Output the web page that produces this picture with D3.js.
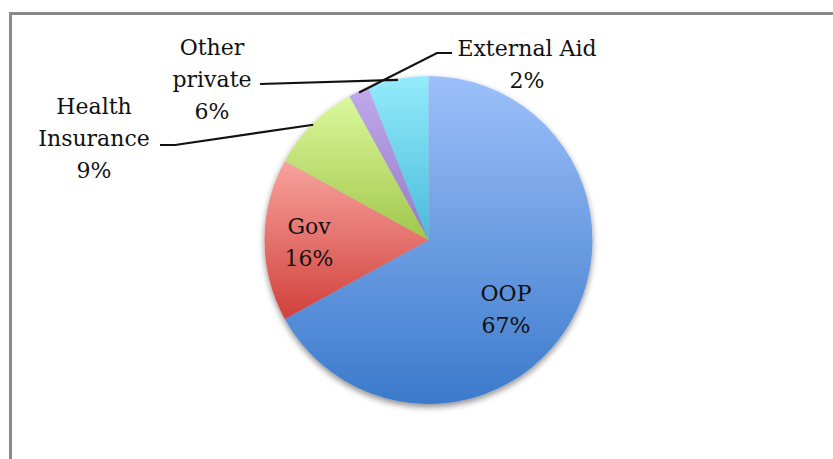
<!DOCTYPE html>
<html>
<head>
<meta charset="utf-8">
<script src="https://cdn.jsdelivr.net/npm/d3@7"></script>
<style>
  html, body { margin: 0; padding: 0; background: #fff; }
  svg { display: block; }
  text { font-family: "DejaVu Serif", "Liberation Serif", serif; fill: #111; }
</style>
</head>
<body>
<svg id="chart" width="833" height="459"></svg>
<script>
// Health spending by source of financing (share of total)
const categories = ["OOP", "Gov", "Health Insurance", "External Aid", "Other private"];
const values = [67, 16, 9, 2, 6];
const labelLines = [["OOP"], ["Gov"], ["Health", "Insurance"], ["External Aid"], ["Other", "private"]];

// Vertical gradient stops for each slice (top colour, bottom colour)
const topColors = ["#9cc0fa", "#f8a39e", "#dbf89c", "#bfaaea", "#95ebfc"];
const bottomColors = ["#3c7acb", "#d1403b", "#a1c74c", "#9679c9", "#47bbda"];

const W = 833, H = 459;
const cx = 428.5, cy = 240, R = 164;
const fontSize = 22, lineGap = 32;

// Label placement: inside labels by text centre,
// outside labels as text centre + leader line anchor.
const layout = {
  "OOP": { inside: true, x: 506, y: 301 },
  "Gov": { inside: true, x: 309, y: 234 },
  "Health Insurance": { x: 94, y: 114, lead: [[160, 145], [175, 145]] },
  "External Aid": { x: 527, y: 56, lead: [[452, 53], [437, 53]] },
  "Other private": { x: 212, y: 55, lead: [[260, 84]] }
};

const svg = d3.select("#chart");
const defs = svg.append("defs");

categories.forEach((c, i) => {
  const g = defs.append("linearGradient")
    .attr("id", "grad" + i)
    .attr("x1", 0).attr("y1", 0).attr("x2", 0).attr("y2", 1);
  g.append("stop").attr("offset", "0%").attr("stop-color", topColors[i]);
  g.append("stop").attr("offset", "100%").attr("stop-color", bottomColors[i]);
});

const shadow = defs.append("filter").attr("id", "shadow")
  .attr("x", "-20%").attr("y", "-20%").attr("width", "140%").attr("height", "140%");
shadow.append("feDropShadow")
  .attr("dx", 0).attr("dy", 3).attr("stdDeviation", 3)
  .attr("flood-color", "#000").attr("flood-opacity", 0.45);

// Chart frame (runs off the right and bottom edges)
svg.append("rect")
  .attr("x", 10.5).attr("y", 13.5)
  .attr("width", W + 20).attr("height", H + 20)
  .attr("fill", "none")
  .attr("stroke", "#8a8a8a")
  .attr("stroke-width", 3);

const pie = d3.pie().sort(null).value(d => d)(values);
const arc = d3.arc().innerRadius(0).outerRadius(R);

const pieG = svg.append("g")
  .attr("transform", `translate(${cx},${cy})`)
  .attr("filter", "url(#shadow)");

pieG.selectAll("path")
  .data(pie)
  .join("path")
  .attr("d", arc)
  .attr("fill", (d, i) => `url(#grad${i})`);

// Leader lines from outside labels to the middle of each slice's rim
const lineGen = d3.line();
pie.forEach((d, i) => {
  const L = layout[categories[i]];
  if (L.inside) return;
  const mid = (d.startAngle + d.endAngle) / 2;
  const rim = [cx + (R - 1) * Math.sin(mid), cy - (R - 1) * Math.cos(mid)];
  svg.append("path")
    .attr("d", lineGen([...L.lead, rim]))
    .attr("fill", "none")
    .attr("stroke", "#111")
    .attr("stroke-width", 2.2);
});

// Labels: name lines followed by the percentage
pie.forEach((d, i) => {
  const L = layout[categories[i]];
  const lines = [...labelLines[i], values[i] + "%"];
  const t = svg.append("text")
    .attr("text-anchor", "middle")
    .attr("font-size", fontSize);
  lines.forEach((s, k) => {
    t.append("tspan")
      .attr("x", L.x)
      .attr("y", L.y + k * lineGap)
      .text(s);
  });
});
</script>
</body>
</html>
